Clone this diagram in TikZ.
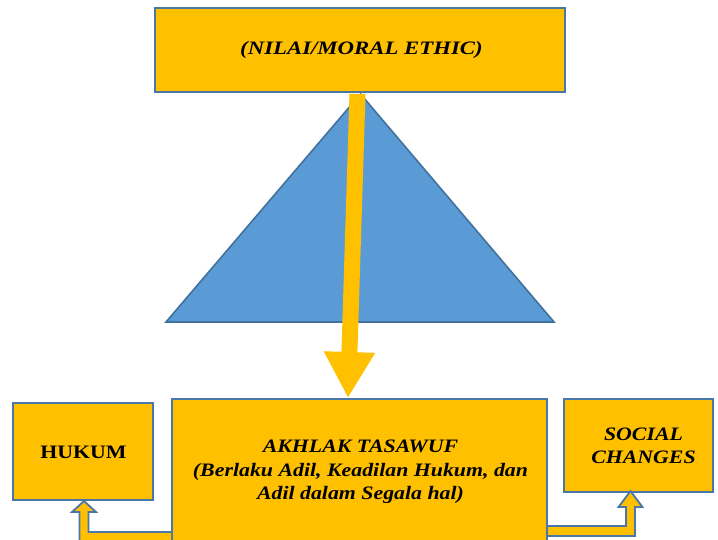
\documentclass[tikz,border=0pt]{standalone}
\usepackage{fontspec}
\setmainfont{Liberation Serif}
\newfontfamily\lbfont[FakeStretch=1.15]{Liberation Serif}
\newfontfamily\lbwidefont[FakeStretch=1.2]{Liberation Serif}
\usetikzlibrary{arrows.meta,calc}
\definecolor{orng}{HTML}{FFC000}
\definecolor{edge}{HTML}{4A76A8}
\definecolor{tri}{HTML}{5B9BD5}
\definecolor{triedge}{HTML}{41719C}
\tikzset{
  box/.style={draw=edge, line width=2pt, fill=orng, inner sep=0pt, align=center},
  bent/.style={draw=edge, line width=1.8pt, fill=orng, line join=miter},
  bigarrow/.style={draw=orng, line width=16pt, line cap=butt, -{Triangle[length=46pt,width=48pt]}},
  lbl/.style={font=\lbfont\fontsize{19}{23.5}\selectfont\bfseries\itshape}
}
\begin{document}
\begin{tikzpicture}[x=1pt,y=-1pt]
\useasboundingbox (0,0) rectangle (718,539);
\clip (0,0) rectangle (718,539);
% boxes
\node[box, minimum width=410pt, minimum height=84pt] (top) at (360,50) {};
\node[font=\lbwidefont\fontsize{19}{23.5}\selectfont\bfseries\itshape] (toptxt) at (361.5,50) {(NILAI/MORAL ETHIC)};
% triangle
\draw[fill=tri, draw=triedge, line width=1.6pt, line join=miter] (166,322) -- (360.5,94) -- (554,322) -- cycle;
\node[box, minimum width=375pt, minimum height=160pt] (akhlak) at (359.5,479) {};
\node[lbl, align=center] (akhtxt) at (360.5,472) {AKHLAK TASAWUF\\(Berlaku Adil, Keadilan Hukum, dan\\Adil dalam Segala hal)};
\node[box, minimum width=140pt, minimum height=97pt] (hukum) at (83,451.5) {};
\node[font=\lbfont\fontsize{19}{23}\selectfont\bfseries] (hukumtxt) at (83.5,452) {HUKUM};
\node[box, minimum width=149pt, minimum height=93pt] (social) at (638.5,445.5) {};
\node[lbl, align=center] (socialtxt) at (643.5,446) {SOCIAL\\CHANGES};
% big arrow
\draw[bigarrow] ([xshift=-2.5pt,yshift=-1pt]top.south) -- ([xshift=-11.5pt]akhlak.north);
% bent arrows
\draw[bent] (akhlak.west |- 0,532) -- (88.5,532) -- (88.5,512) -- (96,512) -- ([xshift=1pt]hukum.south) -- (72,512) -- (79.5,512) -- (79.5,542) -- (akhlak.west |- 0,542);
\draw[bent] (akhlak.east |- 0,526) -- (626,526) -- (626,507) -- (618.5,507) -- ([xshift=-8pt,yshift=2pt]social.south) -- (642.5,507) -- (635,507) -- (635,536) -- (akhlak.east |- 0,536);
\end{tikzpicture}
\end{document}
